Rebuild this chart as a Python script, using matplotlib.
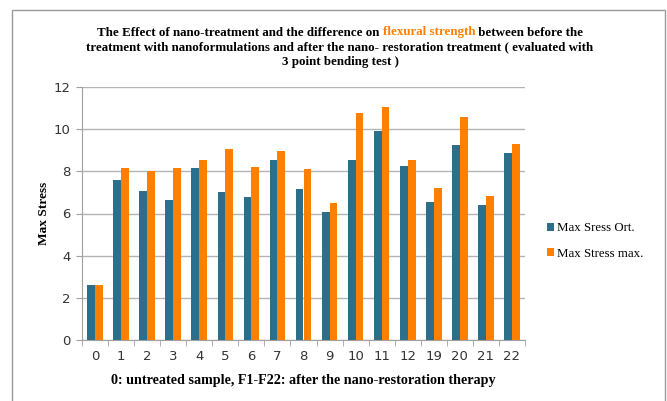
import matplotlib.pyplot as plt
import numpy as np
from matplotlib.patches import Rectangle

# 样品编号与两组最大应力
samples = ['0', '1', '2', '3', '4', '5', '6', '7', '8', '9', '10', '11', '12', '19', '20', '21', '22']
stress_ort = [2.62, 7.59, 7.08, 6.66, 8.14, 7.04, 6.80, 8.52, 7.18, 6.06, 8.52, 9.91, 8.27, 6.53, 9.23, 6.39, 8.86]
stress_max = [2.62, 8.17, 8.02, 8.17, 8.56, 9.06, 8.21, 8.95, 8.13, 6.48, 10.77, 11.04, 8.56, 7.21, 10.59, 6.85, 9.28]

blue = '#2b6f8a'
orange = '#ff8000'
serif = 'Liberation Serif'

fig = plt.figure(figsize=(6.67, 4.01), dpi=100)

# 外框
fig.patches.append(Rectangle((12 / 667, -0.05), 653 / 667, 1 - 10 / 401 + 0.05,
                             transform=fig.transFigure, fill=False,
                             edgecolor='#9a9a9a', linewidth=1.0))

ax = fig.add_axes([82 / 667, (401 - 340) / 401, (525 - 82) / 667, (340 - 87) / 401])

x = np.arange(len(samples))
w = 0.3
ax.bar(x - w / 2, stress_ort, width=w, color=blue, label='Max Sress Ort.', zorder=3)
ax.bar(x + w / 2, stress_max, width=w, color=orange, label='Max Stress max.', zorder=3)

ax.set_xlim(-0.5, len(samples) - 0.5)
ax.set_ylim(0, 12)
ax.set_yticks(range(0, 13, 2))
ax.yaxis.grid(True, color='#b4b4b4', linewidth=1.0, zorder=0)
ax.set_axisbelow(True)

ax.set_xticks(x)
ax.set_xticklabels(samples)
ax.set_xticks(np.arange(-0.5, len(samples), 1), minor=True)
ax.tick_params(axis='x', which='major', length=0, pad=7, labelsize=9.5, labelcolor='#333333')
ax.tick_params(axis='x', which='minor', length=4, color='#a0a0a0', direction='out')
ax.tick_params(axis='y', length=4, color='#a0a0a0', labelsize=9.5, labelcolor='#333333', pad=4)

for s in ['top', 'right']:
    ax.spines[s].set_visible(False)
for s in ['left', 'bottom']:
    ax.spines[s].set_color('#a0a0a0')

ax.set_ylabel('Max Stress', fontfamily=serif, fontweight='bold', fontsize=9.6, labelpad=3)
ax.set_xlabel('0: untreated sample, F1-F22: after the nano-restoration therapy',
              fontfamily=serif, fontweight='bold', fontsize=10.2, labelpad=8)

leg = fig.legend(loc='center left', bbox_to_anchor=(535 / 667, 1 - 241 / 401),
                 frameon=False, prop={'family': serif, 'size': 9.3},
                 handlelength=0.55, handleheight=0.55, handletextpad=0.25,
                 labelspacing=1.05)

# 标题，"flexural strength" 用橙色
renderer = fig.canvas.get_renderer()
tprops = dict(fontfamily=serif, fontweight='bold', fontsize=9.35)
parts = [('The Effect of nano-treatment and the difference on ', 'black'),
         ('flexural strength', orange),
         (' between before the', 'black')]
texts = [fig.text(0, 0, p, color=c, **tprops) for p, c in parts]
widths = [t.get_window_extent(renderer).width for t in texts]
x0 = 340 - sum(widths) / 2
y1 = 1 - 35.5 / 401
for t, wd in zip(texts, widths):
    t.set_position((x0 / 667, y1))
    x0 += wd

fig.text(340 / 667, 1 - 50.5 / 401,
         'treatment with nanoformulations and after the nano- restoration treatment ( evaluated with',
         ha='center', **tprops)
fig.text(340 / 667, 1 - 65.5 / 401, '3 point bending test )', ha='center', **tprops)

fig.savefig('out.png', dpi=100)
